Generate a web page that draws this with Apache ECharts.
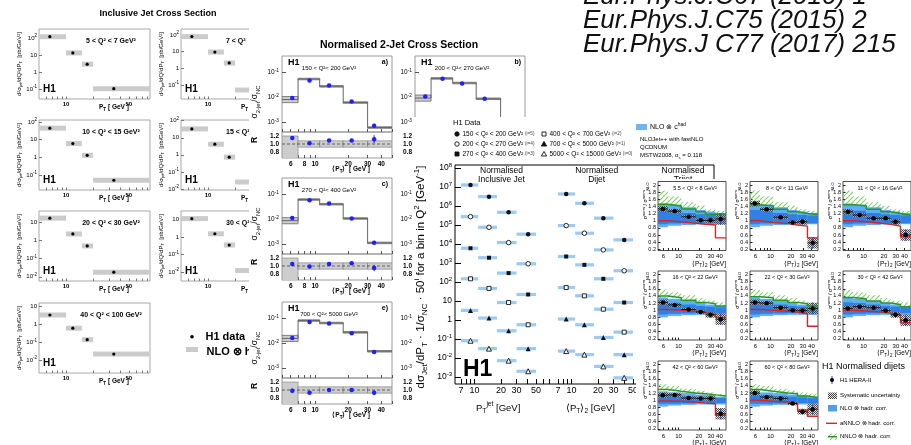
<!DOCTYPE html>
<html>
<head>
<meta charset="utf-8">
<title>H1 jet cross sections</title>
<script src="https://cdn.jsdelivr.net/npm/echarts@6.0.0/dist/echarts.min.js"></script>
<style>
html,body{margin:0;padding:0;background:#fff;}
#chart{width:911px;height:445px;}
</style>
</head>
<body>
<div id="chart"></div>
<script>
// ===================== DATA =====================
// --- Left figure: inclusive jet cross section (low Q2) ---
const incBinEdges = [5, 10, 15, 20, 100];
const incPtCenters = [6.6, 11.9, 17.2, 34];
const incXTickLabels = [10, 50];
const incQ2Labels = ['5 < Q² < 7 GeV²', '7 < Q²', '10 < Q² < 15 GeV²', '15 < Q²', '20 < Q² < 30 GeV²', '30 < Q²', '40 < Q² < 100 GeV²'];
const incXsecQ1 = [120, 13.4, 2.9, 0.105];
const incXsecQ2 = [80, 9.5, 2.1, 0.05];
const incXsecQ3 = [45, 6, 1.3, 0.05];
const incXsecQ4 = [33, 4.2, 0.73, 0.026];
const incXsecQ5 = [17, 2.3, 0.5, 0.018];
const incXsecQ6 = [11, 1.5, 0.34, 0.012];
const incXsecQ7 = [3.4, 0.62, 0.14, 0.022];

// --- Middle figure: normalised 2-jet cross section ---
const djBinEdges = [5, 7, 11, 18, 30, 50];
const djPtCenters = [6.2, 8.9, 13.4, 21.5, 34.4];
const djXTickLabels = [6, 8, 10, 20, 30, 40];
const djQ2Labels = ['150 < Q²< 200 GeV²', '200 < Q²< 270 GeV²', '270 < Q²< 400 GeV²', '400 < Q²< 700 GeV²', '700 < Q²< 5000 GeV²', '5000 < Q²< 15000 GeV²'];
const djPanelTags = ['a)', 'b)', 'c)', 'd)', 'e)', 'f)'];
const djDataA = [0.0095, 0.048, 0.030, 0.0069, 0.00074];
const djNloA = [0.0083, 0.055, 0.028, 0.0063, 0.00063];
const djRatioA = [1.15, 1.02, 1.09, 1.09, 1.12];
const djRatioErrA = [0.02, 0.02, 0.02, 0.04, 0.1];
const djDataB = [0.011, 0.056, 0.036, 0.009, 0.0009];
const djNloB = [0.0095, 0.058, 0.038, 0.0089, 0.00085];
const djRatioB = [1.12, 1.0, 1.02, 1.05, 1.08];
const djRatioErrB = [0.03, 0.02, 0.02, 0.03, 0.08];
const djDataC = [0.0115, 0.059, 0.044, 0.011, 0.00118];
const djNloC = [0.009, 0.063, 0.041, 0.011, 0.00116];
const djRatioC = [1.05, 0.99, 1.05, 1.07, 0.95];
const djRatioErrC = [0.04, 0.02, 0.02, 0.04, 0.08];
const djDataD = [0.013, 0.066, 0.052, 0.017, 0.0022];
const djNloD = [0.011, 0.07, 0.054, 0.017, 0.0021];
const djRatioD = [1.05, 0.97, 1.0, 1.02, 1.0];
const djRatioErrD = [0.04, 0.02, 0.02, 0.03, 0.07];
const djDataE = [0.0167, 0.073, 0.063, 0.026, 0.0046];
const djNloE = [0.016, 0.083, 0.066, 0.028, 0.0049];
const djRatioE = [0.98, 0.93, 1.0, 1.0, 0.93];
const djRatioErrE = [0.06, 0.02, 0.02, 0.03, 0.06];
const djDataF = [0.02, 0.08, 0.075, 0.036, 0.008];
const djNloF = [0.019, 0.085, 0.077, 0.037, 0.0082];
const djRatioF = [1.0, 0.95, 0.98, 0.99, 0.97];
const djRatioErrF = [0.07, 0.03, 0.03, 0.04, 0.08];
const djNloBandLo = [0.75, 0.93, 0.93, 0.93, 0.93];
const djNloBandHi = [1.32, 1.07, 1.07, 1.07, 1.07];
const djRatioBandLo = [0.55, 0.92, 0.92, 0.92, 0.92];
const djRatioBandHi = [1.2, 1.08, 1.08, 1.08, 1.08];

// --- Big figure: normalised inclusive jet / dijet (high Q2) ---
const bigQ2Labels = ['150 < Q² < 200 GeV²', '200 < Q² < 270 GeV²', '270 < Q² < 400 GeV²', '400 < Q² < 700 GeV²', '700 < Q² < 5000 GeV²', '5000 < Q² < 15000 GeV²'];
const bigScaleTags = ['(i=5)', '(i=4)', '(i=3)', '(i=2)', '(i=1)', '(i=0)'];
const bigIncBinEdges = [7, 11, 18, 30, 50];
const bigIncPt = [9.0, 14.6, 24.4, 40.7];
const bigDijBinEdges = [7, 11, 18, 30, 50];
const bigDijPt = [8.7, 14, 23, 39.7];
const bigXTickLabels = [7, 10, 20, 30, 50];
const bigIncQ1 = [1.28e7, 3.1e6, 4.7e5, 3.3e4];
const bigIncQ2 = [2.75e5, 7.6e4, 1.19e4, 910];
const bigIncQ3 = [6.0e3, 1.9e3, 295, 22];
const bigIncQ4 = [147, 46, 8.3, 0.56];
const bigIncQ5 = [3.2, 1.26, 0.27, 0.031];
const bigIncQ6 = [0.081, 0.031, 0.0072, 0.002];
const bigDijQ1 = [4.3e6, 1.4e6, 2.3e5, 1.65e4];
const bigDijQ2 = [9.3e4, 3.7e4, 4.9e3, 390];
const bigDijQ3 = [2.2e3, 800, 147, 8.3];
const bigDijQ4 = [51, 18.7, 3.7, 0.23];
const bigDijQ5 = [1.12, 0.56, 0.12, 0.015];
const bigDijQ6 = [0.023, 0.015, 0.0036, 0.0009];

// --- Right figure: normalised dijets ratio to NLO (low Q2) ---
const rdBinEdges = [5, 7, 11, 18, 25, 35, 50];
const rdPt = [5.9, 8.8, 14.1, 21.2, 29.6, 41.8];
const rdXTickLabels = [6, 10, 20, 30, 40];
const rdYTickLabels = [0.2, 0.4, 0.6, 0.8, 1, 1.2, 1.4, 1.6, 1.8, 2];
const rdQ2Labels = ['5.5 < Q² < 8 GeV²', '8 < Q² < 11 GeV²', '11 < Q² < 16 GeV²', '16 < Q² < 22 GeV²', '22 < Q² < 30 GeV²', '30 < Q² < 42 GeV²', '42 < Q² < 60 GeV²', '60 < Q² < 80 GeV²'];
const rdP1 = [1.33, 1.27, 1.11, 1.01, 1.01, 1.05], rdA1 = [1.0, 0.97, 0.93, 0.9, 0.88, 0.52], rdN1 = [1.46, 1.41, 1.33, 1.25, 1.18, 1.18];
const rdP2 = [1.48, 1.32, 1.1, 0.95, 0.97, 0.38], rdA2 = [1.0, 0.95, 0.92, 0.88, 0.85, 0.52], rdN2 = [1.45, 1.42, 1.32, 1.25, 1.2, 1.18];
const rdP3 = [1.25, 1.16, 1.07, 1.07, 0.97, 0.6], rdA3 = [1.0, 0.97, 0.93, 0.9, 0.85, 0.55], rdN3 = [1.45, 1.42, 1.32, 1.25, 1.2, 1.15];
const rdP4 = [1.22, 1.15, 1.02, 0.95, 0.87, 0.75], rdA4 = [1.02, 1.0, 0.97, 0.93, 0.88, 0.8], rdN4 = [1.4, 1.35, 1.28, 1.22, 1.18, 1.12];
const rdP5 = [1.22, 1.2, 1.07, 1.0, 0.99, 1.05], rdA5 = [1.02, 1.0, 0.97, 0.95, 0.9, 0.55], rdN5 = [1.38, 1.35, 1.28, 1.22, 1.18, 1.12];
const rdP6 = [1.05, 1.1, 1.07, 0.99, 0.87, 0.72], rdA6 = [1.0, 0.98, 0.95, 0.92, 0.88, 0.65], rdN6 = [1.36, 1.32, 1.26, 1.2, 1.16, 1.1];
const rdP7 = [1.14, 1.15, 1.06, 1.05, 1.05, 0.62], rdA7 = [0.98, 0.97, 0.95, 0.92, 0.9, 0.58], rdN7 = [1.3, 1.25, 1.2, 1.18, 1.15, 1.12];
const rdP8 = [1.2, 1.09, 1.05, 0.91, 0.68, 0.75], rdA8 = [1.0, 0.97, 0.95, 0.9, 0.72, 0.55], rdN8 = [1.3, 1.25, 1.2, 1.18, 1.12, 1.08];
const rdRow1NloLo = [0.82, 0.86, 0.88, 0.9, 0.9, 0.9], rdRow1NloHi = [1.48, 1.45, 1.38, 1.3, 1.26, 1.22];
const rdRow1InLo = [0.9, 0.92, 0.93, 0.93, 0.93, 0.93], rdRow1InHi = [1.3, 1.28, 1.22, 1.18, 1.16, 1.15];
const rdRow1NnloHi = [1.85, 1.68, 1.52, 1.42, 1.32, 1.28];
const rdRow2NloLo = [0.8, 0.84, 0.86, 0.87, 0.87, 0.87], rdRow2NloHi = [1.36, 1.32, 1.26, 1.2, 1.16, 1.12];
const rdRow2InLo = [0.88, 0.9, 0.91, 0.92, 0.92, 0.92], rdRow2InHi = [1.22, 1.2, 1.16, 1.12, 1.1, 1.08];
const rdRow2NnloHi = [1.58, 1.5, 1.42, 1.34, 1.27, 1.22];
const rdRow3NloLo = [0.82, 0.85, 0.87, 0.88, 0.88, 0.88], rdRow3NloHi = [1.25, 1.22, 1.2, 1.16, 1.14, 1.1];
const rdRow3InLo = [0.9, 0.9, 0.91, 0.92, 0.92, 0.92], rdRow3InHi = [1.15, 1.14, 1.12, 1.1, 1.08, 1.06];
const rdRow3NnloHi = [1.45, 1.4, 1.32, 1.27, 1.22, 1.18];
const rdSys = [0.08, 0.06, 0.05, 0.05, 0.08, 0.16];
const rdErr = [0.03, 0.025, 0.03, 0.04, 0.08, 0.16];

const citations = ['Eur.Phys.J.C67 (2010) 1', 'Eur.Phys.J.C75 (2015) 2', 'Eur.Phys.J C77 (2017) 215'];

// ===================== HELPERS =====================
const FF = "'Liberation Sans', Arial, Helvetica, sans-serif";
const L = Math.log10;
const I = v => v;
const option = {animation: false, backgroundColor: '#fff', textStyle: {fontFamily: FF},
  grid: [], xAxis: [], yAxis: [], series: [], graphic: {elements: []}};
const G = option.graphic.elements;
const S = option.series;

function font(size, bold, italic) { return (italic ? 'italic ' : '') + (bold ? 'bold ' : '') + size + 'px ' + FF; }
function R(size, bold) {
  const w = bold ? 'bold' : 'normal';
  return {s: {fontSize: size * 0.7, fontFamily: FF, fontWeight: w, verticalAlign: 'bottom'},
          p: {fontSize: size * 0.7, fontFamily: FF, fontWeight: w, verticalAlign: 'top'},
          i: {fontSize: size * 0.72, fontFamily: FF, fontWeight: w, fill: '#444'}};
}
function txt(x, y, text, o) {
  o = o || {};
  const size = o.size || 8;
  const st = {text: text, fill: o.color || '#000', font: font(size, o.bold, o.italic),
    textAlign: o.align || 'left', textVerticalAlign: o.va || 'middle', align: o.align || 'left', verticalAlign: o.va || 'middle'};
  if (o.rich) { st.rich = o.rich; st.lineHeight = o.lh || size * 1.5; }
  G.push({type: 'text', x: x, y: y, rotation: o.rot || 0, z: o.z || 0, silent: true, style: st});
}
function grect(x, y, w, h, fill, z, stroke) {
  G.push({type: 'rect', shape: {x: x, y: y, width: w, height: h}, z: z, silent: true, style: {fill: fill, stroke: stroke || null, lineWidth: stroke ? 0.8 : 0}});
}
function gline(x1, y1, x2, y2, color, lw, z) {
  G.push({type: 'line', shape: {x1: x1, y1: y1, x2: x2, y2: y2}, z: z, silent: true, style: {stroke: color, lineWidth: lw}});
}
function gmark(x, y, kind, z) {
  const open = kind[0] === 'o';
  const st = {fill: open ? '#fff' : '#111', stroke: '#111', lineWidth: 0.9};
  if (kind[1] === 'c') G.push({type: 'circle', shape: {cx: x, cy: y, r: 2.2}, z: z, silent: true, style: st});
  else if (kind[1] === 's') G.push({type: 'rect', shape: {x: x - 2, y: y - 2, width: 4, height: 4}, z: z, silent: true, style: st});
  else G.push({type: 'polygon', shape: {points: [[x, y - 2.6], [x + 2.6, y + 2], [x - 2.6, y + 2]]}, z: z, silent: true, style: st});
}

function axisCfg(gi, r, ticks, labels, f, lab, z, isLog) {
  const a = {gridIndex: gi, type: 'value', min: r[0], max: r[1], z: z,
    axisLine: {show: false, onZero: false}, splitLine: {show: false}, splitArea: {show: false}, minorTick: {show: false}, minorSplitLine: {show: false}};
  a.axisTick = (ticks && ticks.length) ?
    {show: true, inside: true, length: lab.tl || 3, customValues: ticks.map(f), lineStyle: {color: lab.tc || '#333', width: 1}} : {show: false};
  if (labels && labels.length) {
    a.axisLabel = {show: true, customValues: labels.map(f),
      formatter: lab.fmt || (v => String(+(isLog ? Math.pow(10, v) : v).toPrecision(4))),
      fontSize: lab.fs || 7, fontWeight: lab.fw || 'normal', fontFamily: FF, color: lab.c || '#000', margin: lab.m == null ? 3 : lab.m};
    if (lab.lh) a.axisLabel.lineHeight = lab.lh;
    if (lab.rich) a.axisLabel.rich = lab.rich;
  } else a.axisLabel = {show: false};
  return a;
}
function addGrid(c) {
  const gi = option.grid.length;
  option.grid.push({left: c.x, top: c.y, width: c.w, height: c.h, show: !!c.frame, borderColor: c.bc || '#888',
    borderWidth: c.bw || 1, backgroundColor: 'rgba(0,0,0,0)', z: c.z});
  const fx = c.xlog ? L : I, fy = c.ylog ? L : I;
  option.xAxis.push(axisCfg(gi, [fx(c.xr[0]), fx(c.xr[1])], c.xt, c.xl, fx, c.xlab || {}, c.z, c.xlog));
  option.yAxis.push(axisCfg(gi, [fy(c.yr[0]), fy(c.yr[1])], c.yt, c.yl, fy, c.ylab || {}, c.z, c.ylog));
  return gi;
}
function addScatter(gi, data, sym, size, fill, stroke, z) {
  S.push({type: 'scatter', xAxisIndex: gi, yAxisIndex: gi, data: data, symbol: sym, symbolSize: size,
    itemStyle: {color: fill, borderColor: stroke || fill, borderWidth: stroke ? 0.9 : 0, opacity: 1}, z: z, silent: true, animation: false});
}
function addCustom(gi, data, render, z) {
  S.push({type: 'custom', xAxisIndex: gi, yAxisIndex: gi, data: data, renderItem: render, z: z, silent: true, animation: false, clip: true});
}
function addStep(gi, edges, vals, fy, style, z) {
  const d = vals.map((v, i) => [L(edges[i]), fy(v)]);
  d.push([L(edges[edges.length - 1]), fy(vals[vals.length - 1])]);
  S.push({type: 'line', xAxisIndex: gi, yAxisIndex: gi, data: d, step: 'end', symbol: 'none', lineStyle: style, z: z, silent: true, animation: false, clip: true});
}
const rBox = style => (p, api) => {
  const a = api.coord([api.value(0), api.value(2)]), b = api.coord([api.value(1), api.value(3)]);
  return {type: 'rect', shape: {x: Math.min(a[0], b[0]), y: Math.min(a[1], b[1]), width: Math.abs(b[0] - a[0]), height: Math.abs(b[1] - a[1])}, style: Object.assign({}, style)};
};
const rHBand = (h, style) => (p, api) => {
  const a = api.coord([api.value(0), api.value(2)]), b = api.coord([api.value(1), api.value(2)]);
  return {type: 'rect', shape: {x: a[0], y: a[1] - h / 2, width: b[0] - a[0], height: h}, style: Object.assign({}, style)};
};
const rVLine = style => (p, api) => {
  const a = api.coord([api.value(0), api.value(1)]), b = api.coord([api.value(0), api.value(2)]);
  return {type: 'line', shape: {x1: a[0], y1: a[1], x2: b[0], y2: b[1]}, style: Object.assign({}, style)};
};
const rHLine = style => (p, api) => {
  const a = api.coord([api.value(0), api.value(2)]), b = api.coord([api.value(1), api.value(2)]);
  return {type: 'line', shape: {x1: a[0], y1: a[1], x2: b[0], y2: b[1]}, style: Object.assign({}, style)};
};
function decFmt(v) { const n = Math.round(v); if (n === 0) return '1'; if (n === 1) return '10'; return '10{s|' + n + '}'; }
function decFmtAll(v) { return '10{s|' + Math.round(v) + '}'; }

// patterns
function makeHatch() {
  const s = 5, c = document.createElement('canvas'); c.width = s; c.height = s;
  const g = c.getContext('2d'); g.strokeStyle = '#7ccf68'; g.lineWidth = 1.1;
  g.beginPath(); for (let k = -s; k <= s; k += s) { g.moveTo(k, s); g.lineTo(k + s, 0); } g.stroke();
  return {image: c, repeat: 'repeat'};
}
function makeChecker() {
  const c = document.createElement('canvas'); c.width = 2; c.height = 2;
  const g = c.getContext('2d'); g.fillStyle = '#4a4a4a'; g.fillRect(0, 0, 1, 1); g.fillRect(1, 1, 1, 1);
  g.fillStyle = 'rgba(200,200,200,0.55)'; g.fillRect(1, 0, 1, 1); g.fillRect(0, 1, 1, 1);
  return {image: c, repeat: 'repeat'};
}
const HATCH = makeHatch(), CHECK = makeChecker();
const decades = [1e-3, 1e-2, 0.1, 1, 10, 100, 1000];

// ===================== LEFT FIGURE (layer 1) =====================
const incSets = [incXsecQ1, incXsecQ2, incXsecQ3, incXsecQ4, incXsecQ5, incXsecQ6, incXsecQ7];
const incLayout = [[39, 29, 0.026, 340], [181, 29, 0.0145, 229], [39, 120, 0.014, 130], [181, 120, 0.0087, 110],
                   [39, 211, 0.0059, 42], [181, 211, 0.003, 30], [39, 303, 0.0019, 16]];
txt(158, 14, 'Inclusive Jet Cross Section', {size: 9, bold: true, align: 'center', z: 5});
incLayout.forEach((p, k) => {
  const gx = p[0], gy = p[1];
  const gi = addGrid({x: gx, y: gy, w: 111, h: 70, frame: true, bc: '#a8a8a8', z: 1, xlog: true, ylog: true,
    xr: [5, 86], yr: [p[2], p[3]], xt: [6, 7, 8, 9, 10, 20, 30, 40, 50, 60, 70, 80], xl: incXTickLabels, yt: decades, yl: decades,
    xlab: {fs: 6, m: 2, fw: 'bold', tl: 2.5, tc: '#777'},
    ylab: {fs: 6, m: 2, fmt: decFmt, lh: 9, tl: 3, tc: '#777', rich: {s: {fontSize: 4.5, verticalAlign: 'top', fontFamily: FF}}}});
  const vals = incSets[k];
  addCustom(gi, vals.map((v, i) => [L(incBinEdges[i]), L(incBinEdges[i + 1]), L(v)]), rHBand(5, {fill: '#cbcbcb'}), 2);
  addScatter(gi, vals.map((v, i) => [L(incPtCenters[i]), L(v)]), 'circle', 3.2, '#000', null, 3);
  if (gx < 100) txt(gx + 72, gy + 12, incQ2Labels[k], {size: 7, bold: true, align: 'center', z: 5});
  else txt(gx + 45, gy + 12, incQ2Labels[k], {size: 7, bold: true, z: 5});
  txt(gx + 4, gy + 60, 'H1', {size: 10, bold: true, z: 5});
  txt(gx + 60, gy + 78.5, 'P{s|T} [ GeV ]', {size: 6.5, bold: true, z: 5, rich: R(6.5, true), lh: 9});
  txt(gx - 20, gy + 35, 'd²σ{s|jet}/dQ²dP{s|T}  [pb/GeV²]', {size: 6, rot: Math.PI / 2, align: 'center', z: 5, rich: R(6, false), lh: 8.5});
});
G.push({type: 'circle', shape: {cx: 192, cy: 336.7, r: 1.8}, z: 5, silent: true, style: {fill: '#000'}});
txt(205.5, 337, 'H1 data', {size: 11, bold: true, z: 5});
grect(186, 347, 12, 5, '#cbcbcb', 5);
txt(206.5, 351.5, 'NLO ⊗ hadr. corr.', {size: 11, bold: true, z: 5});

// ===================== MIDDLE FIGURE (layer 2) =====================
grect(249, 0, 662, 445, '#fff', 10);
txt(399, 45, 'Normalised 2-Jet Cross Section', {size: 10.5, bold: true, align: 'center', z: 16});
const djSets = [[djDataA, djNloA, djRatioA, djRatioErrA], [djDataB, djNloB, djRatioB, djRatioErrB],
                [djDataC, djNloC, djRatioC, djRatioErrC], [djDataD, djNloD, djRatioD, djRatioErrD],
                [djDataE, djNloE, djRatioE, djRatioErrE], [djDataF, djNloF, djRatioF, djRatioErrF]];
const djCols = [282, 415], djRows = [56, 178, 302];
const djXT = [5, 6, 7, 8, 9, 10, 20, 30, 40, 50];
djSets.forEach((s, k) => {
  const gx = djCols[k % 2], gy = djRows[Math.floor(k / 2)];
  const gu = addGrid({x: gx, y: gy, w: 110, h: 76, frame: true, bc: '#9a9a9a', z: 11, xlog: true, ylog: true,
    xr: [5, 50], yr: [Math.pow(10, -3.38), Math.pow(10, -0.34)], xt: djXT, yt: decades, yl: decades,
    xlab: {tl: 3, tc: '#555'},
    ylab: {fs: 6.5, m: 3, fmt: decFmtAll, lh: 9, tl: 4, tc: '#555', rich: {s: {fontSize: 4.8, verticalAlign: 'top', fontFamily: FF}}}});
  addCustom(gu, s[1].map((v, i) => [L(djBinEdges[i]), L(djBinEdges[i + 1]), L(v * djNloBandLo[i]), L(v * djNloBandHi[i])]),
    rBox({fill: '#cdcdcd', stroke: '#6a6a6a', lineWidth: 0.8}), 12);
  addStep(gu, djBinEdges, s[1], L, {color: '#666', width: 1}, 13);
  addScatter(gu, s[0].map((v, i) => [L(djPtCenters[i]), L(v)]), 'circle', 4.5, '#1f1fff', null, 14);
  const ry = gy + 76;
  const gr = addGrid({x: gx, y: ry, w: 110, h: 26, frame: true, bc: '#9a9a9a', z: 11, xlog: true, ylog: false,
    xr: [5, 50], yr: [0.65, 1.3], xt: djXT, xl: djXTickLabels, yt: [0.8, 1.0, 1.2], yl: [0.8, 1.0, 1.2],
    xlab: {fs: 6.5, fw: 'bold', m: 2.5, tl: 3, tc: '#555'},
    ylab: {fs: 6.5, fw: 'bold', m: 3, fmt: v => v.toFixed(1), tl: 4, tc: '#555'}});
  addCustom(gr, djRatioBandLo.map((lo, i) => [L(djBinEdges[i]), L(djBinEdges[i + 1]), lo, djRatioBandHi[i]]),
    rBox({fill: '#cdcdcd', stroke: '#7a7a7a', lineWidth: 0.6}), 12);
  S.push({type: 'line', xAxisIndex: gr, yAxisIndex: gr, data: [[L(5), 1], [L(50), 1]], symbol: 'none',
    lineStyle: {color: '#444', width: 0.8, type: [3, 2]}, z: 13, silent: true, animation: false});
  addCustom(gr, s[2].map((v, i) => [L(djPtCenters[i]), v - s[3][i], v + s[3][i]]), rVLine({stroke: '#1f1fff', lineWidth: 1}), 13);
  addScatter(gr, s[2].map((v, i) => [L(djPtCenters[i]), v]), 'circle', 4.5, '#1f1fff', null, 14);
  txt(gx + 6, gy + 6.5, 'H1', {size: 9, bold: true, z: 16});
  txt(gx + 106, gy + 6.5, djPanelTags[k], {size: 7, bold: true, align: 'right', z: 16});
  txt(gx + 47, gy + 12.5, djQ2Labels[k], {size: 6, align: 'center', z: 16});
  if (k % 2 === 0) {
    txt(gx - 27, gy + 46, 'σ{s|2-jet}/σ{s|NC}', {size: 8.5, rot: Math.PI / 2, align: 'center', z: 16, rich: R(8.5, false), lh: 12});
    txt(gx - 27, ry + 8, 'R', {size: 8.5, bold: true, rot: Math.PI / 2, align: 'center', z: 16});
  }
  txt(gx + 88, ry + 37.5, '⟨P{s|T}⟩  [ GeV ]', {size: 6.5, bold: true, align: 'right', z: 16, rich: R(6.5, true), lh: 9});
});

// ===================== BIG FIGURE (layer 3) =====================
grect(414, 117, 497, 328, '#fff', 20);
addGrid({x: 455, y: 165, w: 259, h: 219, frame: true, bc: '#000', z: 21, xr: [0, 1], yr: [0, 1]});
const bigYTicks = [1e-3, 1e-2, 0.1, 1, 10, 1e2, 1e3, 1e4, 1e5, 1e6, 1e7, 1e8];
const bigMarkers = [{sym: 'circle', size: 4.5, open: false}, {sym: 'circle', size: 4.5, open: true},
                    {sym: 'rect', size: 4, open: false}, {sym: 'rect', size: 4, open: true},
                    {sym: 'triangle', size: 5, open: false}, {sym: 'triangle', size: 5, open: true}];
const bigSections = [[bigIncBinEdges, bigIncPt, [bigIncQ1, bigIncQ2, bigIncQ3, bigIncQ4, bigIncQ5, bigIncQ6]],
                     [bigDijBinEdges, bigDijPt, [bigDijQ1, bigDijQ2, bigDijQ3, bigDijQ4, bigDijQ5, bigDijQ6]]];
const bigSecX = [455, 552];
bigSections.forEach((sec, j) => {
  const gi = addGrid({x: bigSecX[j], y: 165, w: 97, h: 219, frame: false, z: 21, xlog: true, ylog: true,
    xr: [6, 76], yr: [Math.pow(10, -3.37), Math.pow(10, 8.16)],
    xt: [7, 8, 9, 10, 20, 30, 40, 50, 60, 70], xl: bigXTickLabels,
    yt: j === 0 ? bigYTicks : null, yl: j === 0 ? bigYTicks : null,
    xlab: {fs: 9, m: 2, tl: 5, tc: '#000'},
    ylab: {fs: 8.5, m: 3, fmt: decFmt, lh: 11, tl: 6, tc: '#000', rich: {s: {fontSize: 6, verticalAlign: 'top', fontFamily: FF}}}});
  sec[2].forEach((vals, q) => {
    addCustom(gi, vals.map((v, i) => [L(sec[0][i]), L(sec[0][i + 1]), L(v)]), rHBand(3.2, {fill: '#9ccaf2'}), 22);
    const m = bigMarkers[q];
    addScatter(gi, vals.map((v, i) => [L(sec[1][i]), L(v)]), m.sym, m.size, m.open ? '#fff' : '#111', m.open ? '#111' : null, 23);
  });
});
txt(501.5, 170.5, 'Normalised', {size: 8.5, align: 'center', z: 25});
txt(501.5, 180, 'Inclusive Jet', {size: 8.5, align: 'center', z: 25});
txt(596.7, 170.5, 'Normalised', {size: 8.5, align: 'center', z: 25});
txt(596.7, 180, 'Dijet', {size: 8.5, align: 'center', z: 25});
txt(683, 170.5, 'Normalised', {size: 8.5, align: 'center', z: 25});
txt(683, 180, 'Trijet', {size: 8.5, align: 'center', z: 25});
txt(463, 370, 'H1', {size: 23, bold: true, z: 25});
txt(476, 408, 'P{s|T}{p|jet} [GeV]', {size: 9.5, z: 25, rich: R(9.5, false), lh: 14});
txt(566, 408, '⟨P{s|T}⟩{s|2} [GeV]', {size: 9.5, z: 25, rich: R(9.5, false), lh: 14});
txt(421, 277, 'dσ{s|Jet}/dP{s|T} · 1/σ{s|NC} · 50{p|i} for a bin in Q{p|2} [GeV{p|-1}]', {size: 11.5, rot: Math.PI / 2, align: 'center', z: 25, rich: R(11.5, false), lh: 16});
txt(453, 123, 'H1 Data', {size: 7.5, z: 25});
const legKinds = ['fc', 'oc', 'fs', 'os', 'ft', 'ot'];
bigQ2Labels.forEach((lab, q) => {
  const col = Math.floor(q / 3), row = q % 3;
  const mx = col === 0 ? 457 : 544, ty = 134 + row * 10;
  gmark(mx, ty, legKinds[q], 25);
  txt(mx + 5.5, ty, lab + ' {i|' + bigScaleTags[q] + '}', {size: 6.5, z: 25, rich: R(6.5, false), lh: 9});
});
grect(636, 124, 11, 6, '#6fb5f5', 25);
txt(650, 127, 'NLO ⊗ c{p|had}', {size: 7, z: 25, rich: R(7, false), lh: 10});
txt(640, 139, 'NLOJet++ with fastNLO', {size: 6, z: 25});
txt(640, 147, 'QCDNUM', {size: 6, z: 25});
txt(640, 155, 'MSTW2008, α{s|s} = 0.118', {size: 6, z: 25, rich: R(6, false), lh: 9});

// ===================== RIGHT FIGURE (layer 4) =====================
grect(636, 179, 275, 266, '#fff', 30);
const rdPanels = [[rdP1, rdA1, rdN1], [rdP2, rdA2, rdN2], [rdP3, rdA3, rdN3], [rdP4, rdA4, rdN4],
                  [rdP5, rdA5, rdN5], [rdP6, rdA6, rdN6], [rdP7, rdA7, rdN7], [rdP8, rdA8, rdN8]];
const rdRowBands = [[rdRow1NloLo, rdRow1NloHi, rdRow1InLo, rdRow1InHi, rdRow1NnloHi],
                    [rdRow2NloLo, rdRow2NloHi, rdRow2InLo, rdRow2InHi, rdRow2NnloHi],
                    [rdRow3NloLo, rdRow3NloHi, rdRow3InLo, rdRow3InHi, rdRow3NnloHi]];
const rdCols = [658, 750, 843], rdRowsY = [181.5, 271, 361];
const E = rdBinEdges;
rdPanels.forEach((pn, k) => {
  const col = k % 3, row = Math.floor(k / 3);
  const gx = rdCols[col], gy = rdRowsY[row];
  const b = rdRowBands[row];
  const gi = addGrid({x: gx, y: gy, w: 68, h: 69, frame: true, bc: '#222', bw: 0.8, z: 31, xlog: true, ylog: false,
    xr: [5, 50], yr: [0.165, 2.1], xt: [6, 7, 8, 9, 10, 20, 30, 40], xl: rdXTickLabels, yt: rdYTickLabels, yl: rdYTickLabels,
    xlab: {fs: 6, m: 3, tl: 2.5, tc: '#222'},
    ylab: {fs: 5.5, m: 2, fmt: v => String(Math.round(v * 10) / 10), tl: 2.5, tc: '#222'}});
  const bins = (lo, hi) => lo.map((v, i) => [L(E[i]), L(E[i + 1]), v, hi[i]]);
  addCustom(gi, bins(pn[2], b[4]), rBox({fill: HATCH}), 32);
  addCustom(gi, bins(b[0], b[1]), rBox({fill: '#5eaef7'}), 33);
  addCustom(gi, bins(b[2], b[3]), rBox({fill: '#2f7fe4'}), 34);
  addCustom(gi, pn[0].map((v, i) => [L(E[i]), L(E[i + 1]), v - rdSys[i], v + rdSys[i]]), rBox({fill: CHECK}), 35);
  addStep(gi, E, pn[1], I, {color: '#d02828', width: 1.4}, 36);
  addStep(gi, E, pn[2], I, {color: '#2a952a', width: 1.5}, 36);
  addCustom(gi, pn[0].map((v, i) => [L(E[i]), L(E[i + 1]), v]), rHLine({stroke: '#000', lineWidth: 0.8}), 37);
  addCustom(gi, pn[0].map((v, i) => [L(rdPt[i]), v - rdErr[i], v + rdErr[i]]), rVLine({stroke: '#2244dd', lineWidth: 1}), 37);
  addScatter(gi, pn[0].map((v, i) => [L(rdPt[i]), v]), 'circle', 4.5, '#000', null, 38);
  txt(gx + 37, gy + 6.5, rdQ2Labels[k], {size: 5.5, align: 'center', z: 39});
  txt(gx - 12.5, gy + 1, 'σ{p|norm} / σ{p|norm}{s|NLO}', {size: 5.5, rot: Math.PI / 2, align: 'right', z: 39, rich: R(5.5, false), lh: 8});
  txt(gx + 68, gy + 82.5, '⟨P{s|T}⟩{s|2} [GeV]', {size: 6.5, align: 'right', z: 39, rich: R(6.5, false), lh: 9});
});
txt(822, 367, 'H1 Normalised dijets', {size: 9, z: 39});
gline(832, 376, 832, 384, '#2244dd', 1, 39);
G.push({type: 'circle', shape: {cx: 832, cy: 380, r: 2}, z: 39, silent: true, style: {fill: '#000'}});
txt(840, 380, 'H1 HERA-II', {size: 6, z: 39});
G.push({type: 'rect', shape: {x: 828, y: 392.5, width: 9, height: 6.5}, z: 39, silent: true, style: {fill: CHECK}});
txt(840, 395.7, 'Systematic uncertainty', {size: 6, z: 39});
grect(828, 405, 9, 6.5, '#4d9ff2', 39);
txt(840, 408.3, 'NLO ⊗ hadr. corr.', {size: 6, z: 39});
gline(826, 423.3, 837, 423.3, '#d02828', 1.4, 39);
txt(840, 423.3, 'aNNLO ⊗ hadr. corr.', {size: 6, z: 39});
G.push({type: 'rect', shape: {x: 828, y: 433.5, width: 9, height: 6.5}, z: 39, silent: true, style: {fill: HATCH}});
gline(828, 436.7, 837, 436.7, '#2a952a', 1.4, 39);
txt(840, 436.7, 'NNLO ⊗ hadr. corr.', {size: 6, z: 39});

// ===================== CITATIONS =====================
citations.forEach((c, i) => txt(583, -3.5 + i * 24.3, c, {size: 26, italic: true, color: '#111', z: 45}));

const chart = echarts.init(document.getElementById('chart'), null, {renderer: 'canvas'});
chart.setOption(option);
</script>
</body>
</html>
